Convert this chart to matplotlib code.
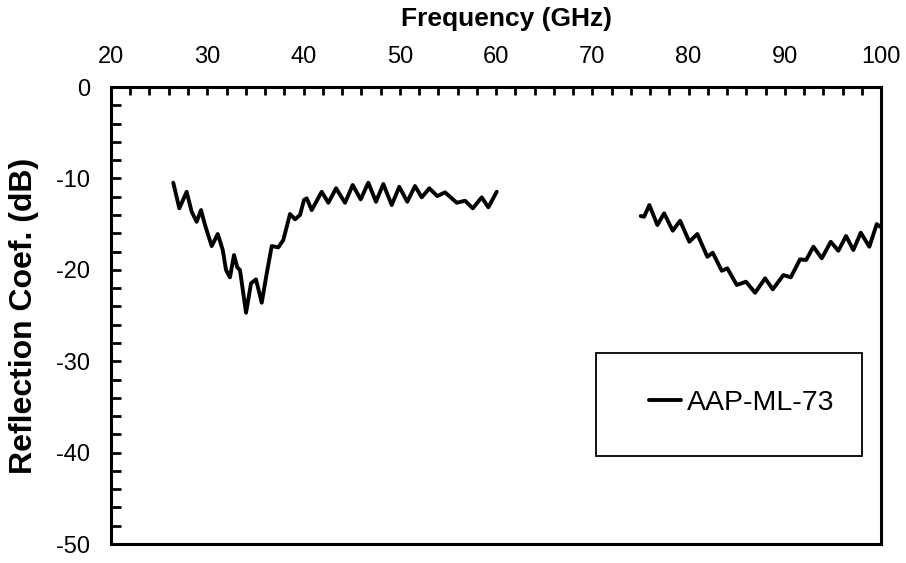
import matplotlib
matplotlib.use("Agg")
import matplotlib.pyplot as plt
from matplotlib.patches import Rectangle
from matplotlib.ticker import MultipleLocator

plt.rcParams["font.family"] = ["Liberation Sans", "DejaVu Sans"]
plt.rcParams["axes.unicode_minus"] = False

# band 1 (26.5 - 60 GHz)
freq_low = [26.47, 27.10, 27.86, 28.38, 28.90, 29.35, 29.77, 30.46, 31.09, 31.61,
            31.95, 32.36, 32.78, 33.12, 33.40, 34.03, 34.55, 35.06, 35.66, 36.18,
            36.70, 37.38, 37.90, 38.60, 39.12, 39.64, 40.05, 40.33, 40.85, 41.89,
            42.58, 43.38, 44.31, 45.11, 45.94, 46.73, 47.53, 48.29, 49.16, 49.95,
            50.78, 51.58, 52.28, 53.07, 53.90, 54.70, 55.92, 56.78, 57.58, 58.51,
            59.20, 60.07]
refl_low = [-10.47, -13.27, -11.46, -13.64, -14.74, -13.46, -15.10, -17.40, -16.08, -17.83,
            -20.02, -20.82, -18.38, -19.73, -20.02, -24.69, -21.48, -21.04, -23.60, -20.38,
            -17.40, -17.54, -16.74, -13.89, -14.47, -14.00, -12.36, -12.18, -13.46, -11.46,
            -12.66, -11.08, -12.66, -10.72, -12.29, -10.47, -12.55, -10.61, -12.91, -10.91,
            -12.55, -10.83, -12.07, -11.08, -11.93, -11.52, -12.66, -12.44, -13.27, -12.07,
            -13.16, -11.46]

# band 2 (75 - 100 GHz)
freq_high = [75.03, 75.38, 75.93, 76.76, 77.46, 78.36, 79.12, 80.08, 80.91, 81.95,
             82.51, 83.45, 84.03, 85.01, 85.97, 86.91, 87.95, 88.75, 89.85, 90.62,
             91.58, 92.21, 92.97, 93.84, 94.77, 95.56, 96.36, 97.12, 97.89, 98.78,
             99.55, 99.90]
refl_high = [-14.11, -14.19, -12.91, -15.10, -13.82, -15.72, -14.63, -16.93, -16.08, -18.57,
             -18.13, -20.10, -19.84, -21.66, -21.30, -22.51, -20.93, -22.13, -20.57, -20.82,
             -18.85, -18.93, -17.47, -18.74, -16.93, -17.91, -16.30, -17.83, -15.94, -17.47,
             -14.99, -15.28]

fig = plt.figure(figsize=(9.06, 5.63), dpi=100)
ax = fig.add_axes([0.1225, 0.0337, 0.850, 0.8117])

line_kw = dict(color="black", lw=2.8, solid_joinstyle="round", solid_capstyle="round")
ax.plot(freq_low, refl_low, label="AAP-ML-73", **line_kw)
ax.plot(freq_high, refl_high, **line_kw)

ax.set_xlim(20, 100)
ax.set_ylim(-50, 0)

ax.xaxis.set_major_locator(MultipleLocator(10))
ax.xaxis.set_minor_locator(MultipleLocator(2))
ax.yaxis.set_major_locator(MultipleLocator(10))
ax.yaxis.set_minor_locator(MultipleLocator(2))

ax.tick_params(axis="x", which="both", direction="in", top=True, bottom=False,
               labeltop=True, labelbottom=False, length=6, width=2, pad=14)
ax.tick_params(axis="y", which="both", direction="in", left=True, right=False,
               length=7, width=2, pad=15)
ax.tick_params(labelsize=17)

for s in ax.spines.values():
    s.set_linewidth(2.2)

ax.set_xlabel("Frequency (GHz)", fontsize=19, fontweight="bold", va="center")
ax.xaxis.set_label_position("top")
ax.xaxis.set_label_coords(0.513, 1.133)
ax.set_ylabel("Reflection Coef. (dB)", fontsize=23, fontweight="bold", va="center")
ax.yaxis.set_label_coords(-0.113, 0.5)

# legend box
ax.add_patch(Rectangle((0.630, 0.193), 0.345, 0.225, transform=ax.transAxes,
                       fill=False, edgecolor="black", lw=1.3))
ax.legend(loc="center", bbox_to_anchor=(0.819, 0.309), frameon=False,
          fontsize=20.5, handlelength=1.15, handletextpad=0.2)

fig.savefig("out.png", dpi=100)
